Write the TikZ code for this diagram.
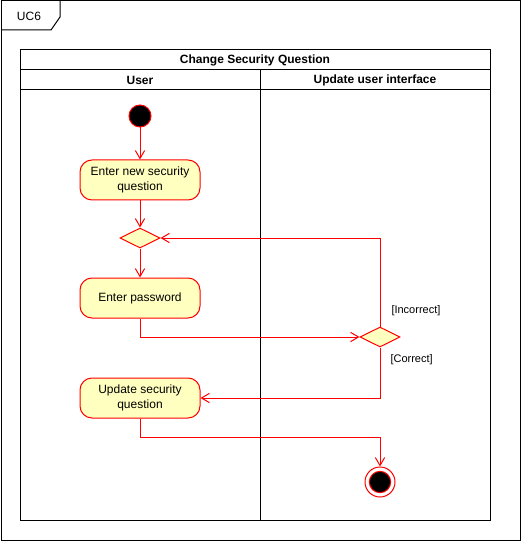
\documentclass[tikz,border=0pt]{standalone}
\usepackage{fontspec}
\setmainfont{Liberation Sans}
\usetikzlibrary{shapes.geometric,arrows.meta}
\definecolor{ured}{HTML}{FF0000}
\definecolor{ufill}{HTML}{FFFFC0}
\begin{document}
\begin{tikzpicture}[x=0.75pt,y=-0.75pt,line width=0.75pt,
  every node/.style={font=\fontsize{9}{11.25}\selectfont},
  frame/.style={draw=black},
  actbox/.style={draw=ured,fill=ufill,rounded corners=9pt,minimum width=90pt,minimum height=30pt,align=center,inner sep=1pt},
  decis/.style={draw=ured,fill=ufill,diamond,aspect=2,minimum width=30pt,minimum height=15pt,inner sep=0pt},
  startst/.style={draw=ured,fill=black,circle,minimum size=16.5pt,inner sep=0pt},
  flow/.style={draw=ured,-{Straight Barb[length=6pt,width=7pt]}},
  guard/.style={anchor=west,inner sep=0pt,font=\fontsize{8.25}{10}\selectfont}]
\useasboundingbox (0,0) rectangle (522,541);
% outer frame
\draw[frame] (1,1) rectangle (520,540);
\draw[frame] (1,30) -- (51,30) -- (60,17) -- (60,1);
\node (uc) at (29,16) {UC6};
% pool
\draw[frame] (20,50) rectangle (490,520);
\draw[frame] (20,70) -- (490,70);
\draw[frame] (20,90) -- (490,90);
\draw[frame] (260,70) -- (260,520);
\node[font=\fontsize{9}{10.5}\selectfont\bfseries] (title) at (255,60) {Change Security Question};
\node[font=\fontsize{9}{10.5}\selectfont\bfseries] (lane1) at (140,80) {User};
\node[font=\fontsize{9}{10.5}\selectfont\bfseries] (lane2) at (375,80) {Update user interface};
% nodes
\node[startst] (start) at (140,116) {};
\node[actbox] (a1) at (140,180) {Enter new security\\question};
\node[decis] (d1) at (140,238) {};
\node[actbox] (a2) at (140,298) {Enter password};
\node[decis] (d2) at (380,337) {};
\node[actbox] (a3) at (140,398) {Update security\\question};
\node[draw=ured,circle,minimum size=22.5pt,inner sep=0pt] (end) at (380,482) {};
\node[draw=ured,fill=black,circle,minimum size=16pt,inner sep=0pt] (endin) at (380,482) {};
\coordinate (b1) at (380,437);
% guards
\node[guard] (g1) at (391,311) {[Incorrect]};
\node[guard] (g2) at (390,360) {[Correct]};
% edges
\draw[flow] (start) -- (a1);
\draw[flow] (a1) -- (d1);
\draw[flow] (d1) -- (a2);
\draw[flow] (a2.south) |- (d2.west);
\draw[flow] (d2.north) |- (d1.east);
\draw[flow] (d2.south) |- (a3.east);
\draw[flow] (a3.south) |- (b1) -- (end.north);
\end{tikzpicture}
\end{document}
